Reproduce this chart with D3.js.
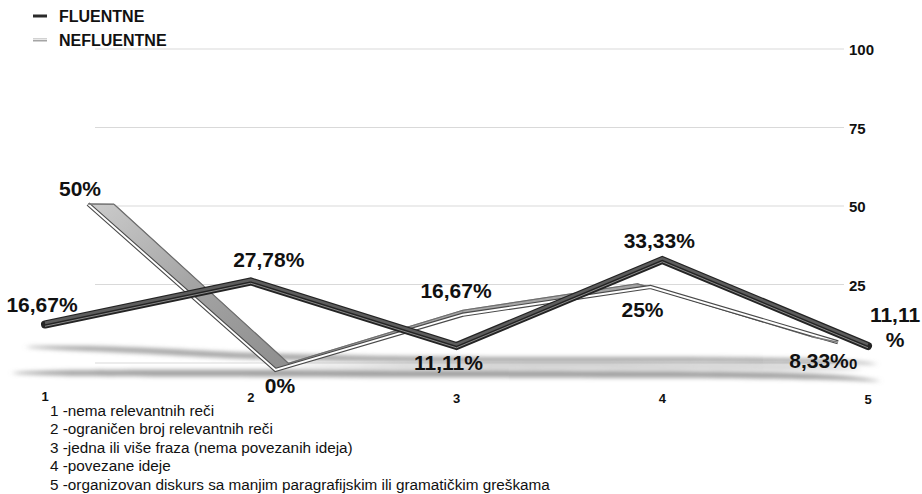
<!DOCTYPE html>
<html><head><meta charset="utf-8">
<script src="https://cdn.jsdelivr.net/npm/d3@7"></script>
<style>
body{margin:0;background:#fff}
svg{display:block}
text{font-family:"Liberation Sans",Arial,Helvetica,sans-serif}
</style>
</head><body>
<svg id="chart" width="922" height="494"></svg>
<script>
// ---- data ----
const categories = ["1", "2", "3", "4", "5"];
const fluentne = [16.67, 27.78, 11.11, 33.33, 11.11];
const nefluentne = [50, 0, 16.67, 25, 8.33];
const yTicks = [0, 25, 50, 75, 100];
const seriesNames = ["FLUENTNE", "NEFLUENTNE"];
const categoryNotes = [
  "1 -nema relevantnih reči",
  "2 -ograničen broj relevantnih reči",
  "3 -jedna ili više fraza (nema povezanih ideja)",
  "4 -povezane ideje",
  "5 -organizovan diskurs sa manjim paragrafijskim ili gramatičkim greškama"
];

// ---- layout ----
const svg = d3.select("#chart");
const fmt = v => (Number.isInteger(v) ? String(v) : v.toFixed(2).replace(".", ",")) + "%";

// back wall (grid) plane
const gridY = d3.scaleLinear().domain([0, 100]).range([363, 49]);
const gridX0 = 95, gridX1 = 844;
// front ribbon (FLUENTNE) and rear ribbon (NEFLUENTNE) planes
const darkX = d3.scalePoint().domain(categories).range([45, 868]);
const darkY = d3.scaleLinear().domain([0, 100]).range([389, 2]);
const lightX = d3.scalePoint().domain(categories).range([88, 838]);
const lightY = d3.scaleLinear().domain([0, 100]).range([370, 38]);
const catX = d3.scalePoint().domain(categories).range([45, 868]);

// perspective used to extrude the rear ribbon in depth
const vanish = [460, 210], depthKx = 0.93, depthKy = 0.958;
const toBack = p => [vanish[0] + (p[0] - vanish[0]) * depthKx, vanish[1] + (p[1] - vanish[1]) * depthKy];

const defs = svg.append("defs");
const blur = defs.append("filter").attr("id", "soft").attr("x", "-10%").attr("y", "-200%").attr("width", "120%").attr("height", "500%");
blur.append("feGaussianBlur").attr("stdDeviation", "3 2.2");
const lg = defs.append("linearGradient").attr("id", "ribbon").attr("x1", 0).attr("y1", 0).attr("x2", 1).attr("y2", 1);
lg.append("stop").attr("offset", "0%").attr("stop-color", "#cccccc");
lg.append("stop").attr("offset", "50%").attr("stop-color", "#a4a4a4");
lg.append("stop").attr("offset", "100%").attr("stop-color", "#8e8e8e");

// ---- gridlines and value axis ----
const grid = svg.append("g");
grid.selectAll("line").data(yTicks).join("line")
  .attr("x1", gridX0).attr("x2", gridX1)
  .attr("y1", d => gridY(d)).attr("y2", d => gridY(d))
  .attr("stroke", "#d9d9d9").attr("stroke-width", 1);

// ---- floor shadows ----
const shadow = svg.append("g").attr("filter", "url(#soft)");
const area = d3.area().x(d => d[0]).y0(d => d[1] - d[2] / 2).y1(d => d[1] + d[2] / 2).curve(d3.curveBasis);
const lightShadow = [[28, 347, 1], [70, 348, 5], [160, 351, 6], [250, 357, 6], [catX("3"), 360, 5], [catX("4"), 359, 5], [840, 361, 5], [875, 364, 1]];
const darkShadow = [[14, 373, 1], [60, 373, 6], [200, 373, 7], [catX("3"), 374, 7], [catX("4"), 374, 7], [830, 376, 6], [878, 381, 1]];
shadow.append("path").attr("d", area(lightShadow)).attr("fill", "#8e8e8e").attr("opacity", 0.8);
shadow.append("path").attr("d", area(darkShadow)).attr("fill", "#8e8e8e").attr("opacity", 0.85);
shadow.append("path").attr("d", area([[300, 366, 1], [catX("3"), 366, 6], [catX("4"), 366, 6], [820, 368, 5], [860, 369, 1]]))
  .attr("fill", "#c4c4c4").attr("opacity", 0.8);

// ---- axis tick labels ----
svg.append("g").selectAll("text").data(yTicks).join("text")
  .attr("x", 849).attr("y", d => gridY(d) + 6)
  .attr("font-size", 15).attr("font-weight", "bold").attr("fill", "#111")
  .text(d => d);

// ---- NEFLUENTNE ribbon (rear) ----
const front = nefluentne.map((v, i) => [lightX(categories[i]), lightY(v)]);
const back = front.map(toBack);
const rib = svg.append("g");
const quads = d3.range(front.length - 1).map(i => [front[i], front[i + 1], back[i + 1], back[i]]);
rib.selectAll("path.face").data(quads).join("path").attr("class", "face")
  .attr("d", q => "M" + q.map(p => p.join(",")).join("L") + "Z")
  .attr("fill", "url(#ribbon)").attr("stroke", "#8a8a8a").attr("stroke-width", 0.8).attr("stroke-linejoin", "round");
const line = d3.line();
rib.append("path").attr("d", line(back)).attr("fill", "none").attr("stroke", "#6e6e6e").attr("stroke-width", 1.2);
rib.append("path").attr("d", line(front)).attr("fill", "none").attr("stroke", "#4a4a4a").attr("stroke-width", 4.2).attr("stroke-linejoin", "miter");
rib.append("path").attr("d", line(front)).attr("fill", "none").attr("stroke", "#ffffff").attr("stroke-width", 2).attr("stroke-linejoin", "miter");
// end caps
[[front[0], back[0]], [front[4], back[4]]].forEach(c => {
  rib.append("line").attr("x1", c[0][0]).attr("y1", c[0][1]).attr("x2", c[1][0]).attr("y2", c[1][1])
    .attr("stroke", "#7a7a7a").attr("stroke-width", 1.5);
});

// ---- FLUENTNE ribbon (front) ----
const darkPts = fluentne.map((v, i) => [darkX(categories[i]), darkY(v)]);
const dk = svg.append("g");
dk.append("path").attr("d", line(darkPts)).attr("fill", "none").attr("stroke", "#242424")
  .attr("stroke-width", 8).attr("stroke-linejoin", "miter").attr("stroke-linecap", "round");
dk.append("path").attr("d", line(darkPts)).attr("fill", "none").attr("stroke", "#5c5c5c")
  .attr("stroke-width", 2.6).attr("transform", "translate(0,-1.6)").attr("stroke-linejoin", "miter");
dk.append("path").attr("d", line(darkPts)).attr("fill", "none").attr("stroke", "#8a8a8a")
  .attr("stroke-width", 1).attr("transform", "translate(0,1.8)").attr("stroke-linejoin", "miter");

// ---- value labels ----
const valueFont = 21;
const darkOff = [[-3, -12.5], [18, -14.5], [-8, 24], [-3, -12], [27, -24]];
const lightOff = [[-8, -8], [4.5, 23], [-7, -17], [-8, 30], [-19, 26]];
const lbl = svg.append("g").attr("font-size", valueFont).attr("font-weight", "bold").attr("fill", "#111").attr("text-anchor", "middle");
nefluentne.forEach((v, i) => {
  lbl.append("text").attr("x", front[i][0] + lightOff[i][0]).attr("y", front[i][1] + lightOff[i][1]).text(fmt(v));
});
fluentne.forEach((v, i) => {
  const t = lbl.append("text").attr("x", darkPts[i][0] + darkOff[i][0]).attr("y", darkPts[i][1] + darkOff[i][1]);
  if (i === fluentne.length - 1) {
    // last label wraps onto two lines
    const s = fmt(v);
    t.append("tspan").attr("x", darkPts[i][0] + darkOff[i][0]).text(s.slice(0, -1));
    t.append("tspan").attr("x", darkPts[i][0] + darkOff[i][0]).attr("dy", 25).text("%");
  } else {
    t.text(fmt(v));
  }
});

// ---- category labels ----
svg.append("g").selectAll("text").data(categories).join("text")
  .attr("x", d => catX(d)).attr("y", (d, i) => 401 + i * 0.8)
  .attr("text-anchor", "middle").attr("font-size", 13).attr("font-weight", "bold").attr("fill", "#111")
  .text(d => d);

// ---- series legend ----
const leg = svg.append("g");
seriesNames.forEach((n, i) => {
  const y = 16 + i * 24;
  if (i === 0) {
    leg.append("line").attr("x1", 33).attr("x2", 47).attr("y1", y).attr("y2", y).attr("stroke", "#2a2a2a").attr("stroke-width", 3);
  } else {
    leg.append("line").attr("x1", 33).attr("x2", 47).attr("y1", y).attr("y2", y).attr("stroke", "#a5a5a5").attr("stroke-width", 3);
    leg.append("line").attr("x1", 33).attr("x2", 47).attr("y1", y - 0.5).attr("y2", y - 0.5).attr("stroke", "#e8e8e8").attr("stroke-width", 1);
  }
  leg.append("text").attr("x", 59).attr("y", y + 6).attr("font-size", 16).attr("font-weight", "bold").attr("fill", "#111").text(n);
});

// ---- category notes ----
svg.append("g").selectAll("text").data(categoryNotes).join("text")
  .attr("x", 50).attr("y", (d, i) => 416 + i * 18.4)
  .attr("font-size", 15.3).attr("fill", "#111")
  .text(d => d);
</script>
</body></html>
